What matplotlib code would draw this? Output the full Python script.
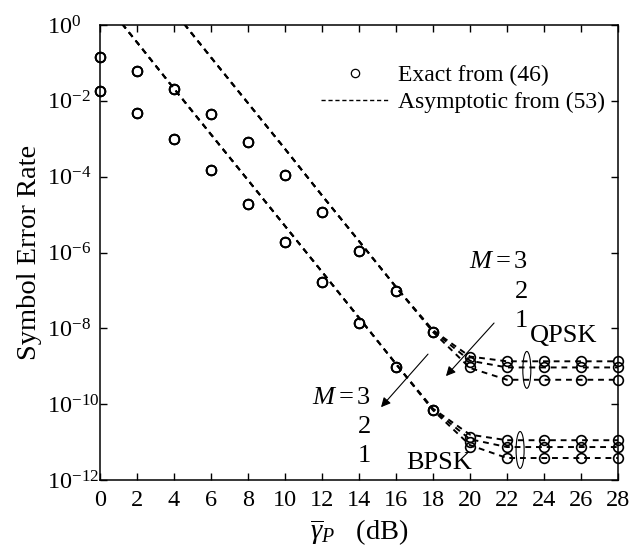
import matplotlib
matplotlib.use("Agg")
import matplotlib.pyplot as plt
import numpy as np
from matplotlib.lines import Line2D
from matplotlib.patches import Ellipse

plt.rcParams['font.family'] = ['Liberation Serif', 'DejaVu Serif']
plt.rcParams['mathtext.fontset'] = 'custom'
plt.rcParams['mathtext.rm'] = 'Liberation Serif'
plt.rcParams['mathtext.it'] = 'Liberation Serif:italic'
plt.rcParams['mathtext.bf'] = 'Liberation Serif:bold'

# SNR grid (dB)
snr = [0, 2, 4, 6, 8, 10, 12, 14, 16, 18, 20, 22, 24, 26, 28]

# exact SER, 0..18 dB (all M coincide)
qpsk_exact_low = [1.4e-1, 6.2e-2, 2.0e-2, 4.5e-3, 8.1e-4, 1.1e-4, 1.2e-5, 1.1e-6, 9.8e-8, 7.9e-9]
bpsk_exact_low = [1.8e-2, 4.8e-3, 1.0e-3, 1.5e-4, 1.9e-5, 1.9e-6, 1.7e-7, 1.4e-8, 9.5e-10, 6.9e-11]
# exact SER, 20..28 dB for M = 3, 2, 1
qpsk_exact_high = {3: [1.74e-9, 1.35e-9, 1.35e-9, 1.35e-9, 1.35e-9],
                   2: [1.29e-9, 9.3e-10, 9.3e-10, 9.3e-10, 9.3e-10],
                   1: [9.5e-10, 4.4e-10, 4.4e-10, 4.4e-10, 4.4e-10]}
bpsk_exact_high = {3: [1.35e-11, 1.12e-11, 1.12e-11, 1.12e-11, 1.12e-11],
                   2: [1.0e-11, 7.4e-12, 7.4e-12, 7.4e-12, 7.4e-12],
                   1: [7.4e-12, 3.8e-12, 3.8e-12, 3.8e-12, 3.8e-12]}

# asymptotic SER, 0..16 dB (all M coincide)
qpsk_asym_low = [150.0, 37.0, 2.3, 1.4e-1, 8.7e-3, 5.4e-4, 3.2e-5, 2.0e-6, 1.23e-7]
bpsk_asym_low = [5.6, 3.5e-1, 2.1e-2, 1.3e-3, 8.1e-5, 5.0e-6, 3.1e-7, 1.9e-8, 1.15e-9]
# asymptotic SER, 18..28 dB for M = 3, 2, 1
qpsk_asym_high = {3: [8.95e-9, 1.8e-9, 1.35e-9, 1.35e-9, 1.35e-9, 1.35e-9],
                  2: [8.5e-9, 1.4e-9, 9.3e-10, 9.3e-10, 9.3e-10, 9.3e-10],
                  1: [8.0e-9, 9.0e-10, 4.4e-10, 4.4e-10, 4.4e-10, 4.4e-10]}
bpsk_asym_high = {3: [7.6e-11, 1.57e-11, 1.12e-11, 1.12e-11, 1.12e-11, 1.12e-11],
                  2: [7.2e-11, 1.19e-11, 7.4e-12, 7.4e-12, 7.4e-12, 7.4e-12],
                  1: [6.9e-11, 8.3e-12, 3.8e-12, 3.8e-12, 3.8e-12, 3.8e-12]}

fig = plt.figure(figsize=(6.33, 5.5), dpi=100)
ax = fig.add_axes([100 / 633, 1 - 480 / 550, 518 / 633, 455 / 550])

circ = dict(ls='none', marker='o', mfc='none', mec='k', ms=7, mew=1.2)
dash = dict(color='k', lw=1.4, ls=(0, (3, 2.5)))

for m in (3, 2, 1):
    for low, high in ((qpsk_asym_low, qpsk_asym_high), (bpsk_asym_low, bpsk_asym_high)):
        ax.plot(snr, low + high[m], **dash)
    for low, high in ((qpsk_exact_low, qpsk_exact_high), (bpsk_exact_low, bpsk_exact_high)):
        ax.plot(snr, low + high[m], clip_on=False, **circ)

ax.set_yscale('log')
ax.set_xlim(0, 28)
ax.set_ylim(1e-12, 1e0)
ax.set_xticks(snr)
ax.set_yticks([10.0 ** k for k in range(-12, 1, 2)])
ax.minorticks_off()
ax.tick_params(which='both', direction='in', top=True, right=True, length=5,
               width=1, labelsize=17.5)
ax.tick_params(axis='x', pad=7)
ax.tick_params(axis='y', pad=38)
for lab in ax.get_yticklabels():
    lab.set_horizontalalignment('left')
for s in ax.spines.values():
    s.set_linewidth(1.1)

ax.set_ylabel('Symbol Error Rate', fontsize=20.5, labelpad=4)
ax.set_xlabel(r'$\overline{\gamma}_P$   (dB)', fontsize=20.5, labelpad=5)

handles = [Line2D([], [], ls='none', marker='o', mfc='none', mec='k', ms=6, mew=0.9),
           Line2D([], [], color='k', lw=1.0, ls=(0, (3, 2)))]
ax.legend(handles, ['Exact from (46)', 'Asymptotic from (53)'], frameon=False,
          fontsize=17, loc='upper right', bbox_to_anchor=(1.006, 0.95),
          handlelength=2.9, handletextpad=0.35, labelspacing=0.25, borderpad=0.2)

# QPSK group
ax.text(23.15, 10 ** -6.25, r'$M = 3$', fontsize=19, ha='right', va='center')
ax.text(23.15, 10 ** -7.05, '2', fontsize=19, ha='right', va='center')
ax.text(23.15, 10 ** -7.8, '1', fontsize=19, ha='right', va='center')
ax.text(23.25, 10 ** -8.2, 'QPSK', fontsize=19, ha='left', va='center')
ax.annotate('', xy=(18.7, 10 ** -9.26), xytext=(21.3, 10 ** -7.86),
            arrowprops=dict(arrowstyle='-|>', color='k', lw=0.8,
                            mutation_scale=14, shrinkA=0, shrinkB=0))

# BPSK group
ax.text(14.65, 10 ** -9.84, r'$M = 3$', fontsize=19, ha='right', va='center')
ax.text(14.65, 10 ** -10.6, '2', fontsize=19, ha='right', va='center')
ax.text(14.65, 10 ** -11.38, '1', fontsize=19, ha='right', va='center')
ax.text(16.55, 10 ** -11.55, 'BPSK', fontsize=19, ha='left', va='center')
ax.annotate('', xy=(15.19, 10 ** -10.08), xytext=(17.73, 10 ** -8.68),
            arrowprops=dict(arrowstyle='-|>', color='k', lw=0.8,
                            mutation_scale=14, shrinkA=0, shrinkB=0))

ax.add_patch(Ellipse((0.824, 0.242), 0.0155, 0.081, transform=ax.transAxes,
                     fill=False, ec='k', lw=0.8))
ax.add_patch(Ellipse((0.811, 0.066), 0.0155, 0.081, transform=ax.transAxes,
                     fill=False, ec='k', lw=0.8))

fig.savefig('out.png', dpi=100)
